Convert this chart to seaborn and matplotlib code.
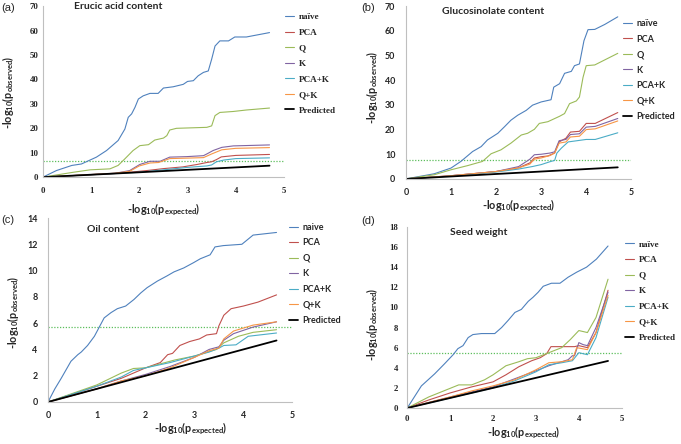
import numpy as np
import pandas as pd
import seaborn as sns
import matplotlib.pyplot as plt

# ---- data (x = -log10 p expected, y = -log10 p observed) ----
series_names = ["naive", "PCA", "Q", "K", "PCA+K", "Q+K"]
series_colors = ["#4F81BD", "#C0504D", "#9BBB59", "#8064A2", "#4BACC6", "#F79646"]

a_naive = [(0, 0), (0.28, 2.7), (0.6, 4.8), (0.8, 5.4), (1.11, 8.2), (1.32, 10.9), (1.56, 15), (1.7, 19.7),
           (1.77, 24.5), (1.84, 25.9), (1.91, 28.6), (1.98, 32), (2.08, 33.3), (2.22, 34.3), (2.39, 34.3),
           (2.5, 36.5), (2.7, 37), (2.91, 38), (3.0, 39.2), (3.12, 39.5), (3.22, 41.5), (3.33, 42.9),
           (3.43, 43.5), (3.5, 48.3), (3.57, 53.7), (3.67, 55.8), (3.85, 55.8), (3.98, 57.4), (4.22, 57.4),
           (4.7, 59.2)]
a_pca = [(0, 0), (1.5, 1.5), (1.8, 2.0), (2.2, 2.8), (2.5, 3.5), (2.9, 4.2), (3.2, 5.2), (3.4, 6.0), (3.5, 6.3),
         (3.6, 7.2), (3.7, 8.3), (4.0, 8.9), (4.7, 9.3)]
a_q = [(0, 0), (0.63, 2.0), (0.98, 3.0), (1.39, 3.4), (1.56, 4.8), (1.7, 7.5), (1.87, 10.9), (2.01, 12.9),
       (2.19, 13.3), (2.32, 15.2), (2.5, 16), (2.57, 17), (2.63, 19.3), (2.77, 20), (3.4, 20.4), (3.5, 21),
       (3.57, 25.2), (3.67, 26.5), (3.95, 26.9), (4.22, 27.5), (4.7, 28.3)]
a_k = [(0, 0), (1.5, 1.6), (1.8, 2.7), (2.01, 5.2), (2.22, 6.5), (2.43, 6.5), (2.63, 8.2), (2.98, 8.4),
       (3.33, 8.8), (3.4, 9.5), (3.53, 10.9), (3.71, 12.2), (3.95, 12.8), (4.7, 13.2)]
a_pcak = [(0, 0), (1.6, 1.6), (2.0, 2.0), (2.5, 3.0), (3.0, 4.0), (3.4, 4.6), (3.5, 5.0), (3.6, 6.3),
          (3.75, 7.0), (4.0, 7.6), (4.7, 7.9)]
a_qk = [(0, 0), (1.5, 1.6), (1.8, 2.4), (2.0, 4.6), (2.22, 5.8), (2.4, 6.0), (2.63, 7.6), (3.0, 7.8),
        (3.33, 8.0), (3.5, 9.5), (3.71, 11.2), (4.0, 11.8), (4.7, 12.1)]

b_naive = [(0, 0), (0.63, 2.1), (1.0, 4.4), (1.22, 7.1), (1.37, 9.4), (1.48, 11.1), (1.67, 13.1), (1.81, 15.8),
           (2.04, 18.5), (2.19, 21.2), (2.33, 23.8), (2.48, 25.8), (2.67, 27.8), (2.81, 29.9), (3.0, 31.2),
           (3.22, 32.1), (3.28, 37.2), (3.41, 38.6), (3.52, 42.8), (3.67, 43.6), (3.74, 45.9), (3.85, 46.6),
           (3.95, 56), (4.04, 60.5), (4.19, 60.6), (4.41, 62.6), (4.7, 65.7)]
b_pca = [(0, 0), (1.0, 1.3), (2.0, 3.0), (2.5, 4.5), (2.75, 6.5), (2.85, 8.5), (3.0, 9.0), (3.15, 9.3),
         (3.3, 10.5), (3.4, 15.0), (3.55, 16.5), (3.65, 19.0), (3.85, 19.3), (4.0, 22.5), (4.2, 22.5),
         (4.7, 26.9)]
b_q = [(0, 0), (0.63, 1.7), (1.0, 3.7), (1.37, 5.4), (1.7, 7.1), (1.89, 10.2), (2.11, 11.8), (2.33, 14.5),
       (2.56, 17.8), (2.7, 18.5), (2.85, 20.1), (2.96, 22.5), (3.15, 23.2), (3.41, 25.4), (3.52, 26.5),
       (3.63, 30.5), (3.78, 31.6), (3.85, 33.2), (3.93, 41.2), (4.0, 45.9), (4.19, 46.2), (4.7, 50.9)]
b_k = [(0, 0), (1.0, 1.3), (2.0, 3.0), (2.5, 5.0), (2.75, 8.0), (2.85, 9.8), (3.0, 10.0), (3.2, 10.5),
       (3.3, 11.0), (3.4, 15.5), (3.55, 16.0), (3.65, 18.0), (3.85, 18.3), (4.0, 21.0), (4.2, 21.3),
       (4.7, 24.5)]
b_pcak = [(0, 0), (1.0, 1.2), (2.0, 2.8), (2.5, 4.0), (2.8, 5.0), (3.0, 5.8), (3.2, 7.0), (3.3, 7.5),
          (3.35, 10.5), (3.45, 12.5), (3.6, 15.0), (3.8, 15.5), (4.0, 16.0), (4.2, 16.0), (4.7, 18.7)]
b_qk = [(0, 0), (1.0, 1.3), (2.0, 3.0), (2.5, 4.5), (2.75, 6.0), (2.85, 8.0), (3.0, 8.5), (3.2, 9.5),
        (3.3, 10.5), (3.4, 14.5), (3.55, 15.0), (3.65, 17.0), (3.85, 17.3), (4.0, 20.0), (4.2, 20.3),
        (4.7, 23.5)]

c_naive = [(0, 0), (0.14, 1.0), (0.27, 1.8), (0.47, 3.1), (0.61, 3.6), (0.68, 3.8), (0.81, 4.3), (0.95, 5.0),
           (1.05, 5.7), (1.15, 6.4), (1.29, 6.8), (1.42, 7.1), (1.59, 7.3), (1.76, 7.8), (1.9, 8.3),
           (2.03, 8.7), (2.24, 9.2), (2.44, 9.6), (2.58, 9.9), (2.78, 10.2), (2.98, 10.6), (3.12, 10.9),
           (3.32, 11.2), (3.42, 11.8), (3.59, 11.9), (3.97, 12.0), (4.2, 12.7), (4.68, 12.9)]
c_pca = [(0, 0), (1.0, 1.2), (1.5, 1.8), (2.0, 2.6), (2.3, 3.0), (2.45, 3.6), (2.55, 3.7), (2.7, 4.3),
         (2.9, 4.6), (3.1, 4.8), (3.25, 5.1), (3.45, 5.2), (3.5, 5.8), (3.6, 6.6), (3.75, 7.1), (4.0, 7.3),
         (4.3, 7.6), (4.68, 8.15)]
c_q = [(0, 0), (1.0, 1.3), (1.5, 2.2), (1.75, 2.55), (2.0, 2.6), (2.3, 2.9), (2.6, 3.2), (3.0, 3.5),
       (3.45, 4.0), (3.6, 4.5), (3.9, 5.0), (4.2, 5.3), (4.68, 5.5)]
c_k = [(0, 0), (1.0, 1.0), (1.5, 1.6), (2.0, 2.1), (2.5, 2.7), (3.0, 3.4), (3.3, 4.0), (3.5, 4.2), (3.6, 4.7),
       (3.8, 5.2), (4.2, 5.7), (4.68, 6.1)]
c_pcak = [(0, 0), (1.0, 1.2), (1.5, 1.9), (1.75, 2.4), (2.0, 2.6), (2.5, 3.0), (3.0, 3.5), (3.3, 3.8),
          (3.5, 4.1), (3.6, 4.3), (3.85, 4.35), (4.1, 5.0), (4.68, 5.25)]
c_qk = [(0, 0), (1.0, 1.0), (1.5, 1.6), (2.0, 2.0), (2.5, 2.6), (3.0, 3.4), (3.3, 3.9), (3.5, 4.1),
        (3.6, 4.8), (3.8, 5.4), (4.2, 5.85), (4.68, 6.1)]

d_naive = [(0, 0), (0.33, 2.2), (0.64, 3.4), (0.87, 4.4), (1.07, 5.3), (1.18, 5.9), (1.3, 6.2), (1.42, 7.0),
           (1.53, 7.3), (1.73, 7.4), (2.04, 7.4), (2.2, 8.0), (2.35, 8.7), (2.51, 9.5), (2.66, 9.8),
           (2.82, 10.6), (2.93, 11.0), (3.05, 11.5), (3.17, 12.1), (3.36, 12.4), (3.56, 12.4), (3.75, 13.0),
           (3.95, 13.5), (4.18, 14.0), (4.41, 14.8), (4.68, 16.1)]
d_pca = [(0, 0), (0.5, 0.8), (1.0, 1.5), (1.5, 2.1), (2.0, 2.6), (2.3, 3.3), (2.6, 4.1), (2.9, 4.7),
         (3.1, 5.0), (3.25, 5.4), (3.35, 6.1), (3.9, 6.1), (4.0, 6.2), (4.2, 6.0), (4.4, 7.5), (4.68, 11.7)]
d_q = [(0, 0), (0.5, 1.1), (0.85, 1.7), (1.2, 2.3), (1.5, 2.3), (1.8, 2.8), (2.0, 3.3), (2.3, 4.2),
       (2.6, 4.6), (2.8, 4.9), (3.0, 5.0), (3.3, 5.5), (3.6, 6.0), (3.8, 6.8), (4.0, 7.7), (4.2, 7.5),
       (4.4, 9.0), (4.68, 12.8)]
d_k = [(0, 0), (1.0, 1.1), (1.5, 1.6), (2.0, 2.1), (2.5, 2.9), (3.0, 3.7), (3.3, 4.2), (3.6, 4.6),
       (3.75, 4.8), (3.85, 5.2), (3.9, 5.2), (4.0, 6.5), (4.1, 6.3), (4.2, 6.2), (4.4, 8.0), (4.68, 11.5)]
d_pcak = [(0, 0), (1.0, 1.0), (1.5, 1.5), (2.0, 2.0), (2.5, 2.7), (3.0, 3.6), (3.3, 4.3), (3.6, 4.5),
          (3.85, 4.7), (4.0, 5.5), (4.2, 5.3), (4.4, 7.0), (4.68, 11.0)]
d_qk = [(0, 0), (1.0, 1.1), (1.5, 1.7), (2.0, 2.2), (2.5, 2.8), (3.0, 3.8), (3.3, 4.5), (3.6, 4.6),
        (3.85, 4.8), (3.95, 6.0), (4.2, 5.8), (4.4, 7.5), (4.68, 11.2)]

predicted_end = [4.7, 4.7, 4.68, 4.68]
thresholds = [6.5, 7.5, 5.7, 5.5]
panel_titles = ["Erucic acid content", "Glucosinolate content", "Oil content", "Seed weight"]
panel_letters = ["(a)", "(b)", "(c)", "(d)"]
y_max = [70, 70, 14, 18]
y_step = [10, 10, 2, 2]

sns.set_style("white")
plt.rcParams["mathtext.default"] = "regular"

SERIF = "Liberation Serif"
SANS = "Lato"

fig = plt.figure(figsize=(6.81, 4.44), dpi=100)

axes_pos = [
    [0.063, 0.601, 0.354, 0.385],
    [0.596, 0.597, 0.331, 0.389],
    [0.0705, 0.0946, 0.3585, 0.4144],
    [0.598, 0.081, 0.315, 0.408],
]
legend_anchor = [(0.4185, 0.971), (0.915, 0.957), (0.4245, 0.498), (0.918, 0.459)]
title_pos = [(0.13, 1.0), (0.16, 0.97), (0.16, 0.94), (0.2, 0.967)]
letter_pos = [(0.0025, 0.982), (0.531, 0.982), (0.0025, 0.505), (0.531, 0.502)]
tick_font = [SERIF, SANS, SANS, SERIF]
naive_label = ["naïve", "naïve", "naive", "naïve"]
ytick_pad = [0.8, 5.0, 5.0, 4.0]
xtick_pad = [4.7, 4.3, 4.3, 2.5]
xlabel_xy = [(0.5, -0.193), (0.5, -0.158), (0.586, -0.148), (0.544, -0.138)]
ylabel_xy = [(-0.145, 0.497), (-0.151, 0.53), (-0.143, 0.49), (-0.163, 0.46)]

all_series = [
    [a_naive, a_pca, a_q, a_k, a_pcak, a_qk],
    [b_naive, b_pca, b_q, b_k, b_pcak, b_qk],
    [c_naive, c_pca, c_q, c_k, c_pcak, c_qk],
    [d_naive, d_pca, d_q, d_k, d_pcak, d_qk],
]

for i in range(4):
    ax = fig.add_axes(axes_pos[i])
    fam = tick_font[i]

    # significance threshold
    ax.axhline(thresholds[i], color="#5cbf5c", lw=0.9, ls=(0, (1, 1.3)), zorder=1)

    for name, color, pts in zip(series_names, series_colors, all_series[i]):
        df = pd.DataFrame(pts, columns=["x", "y"])
        label = naive_label[i] if name == "naive" else name
        sns.lineplot(data=df, x="x", y="y", ax=ax, color=color, lw=0.8,
                     sort=False, estimator=None, label=label)

    pred = pd.DataFrame({"x": [0, predicted_end[i]], "y": [0, predicted_end[i]]})
    sns.lineplot(data=pred, x="x", y="y", ax=ax, color="black", lw=1.3,
                 sort=False, estimator=None, label="Predicted")

    ax.set_xlim(0, 5)
    ax.set_ylim(0, y_max[i])
    ax.set_xticks(range(0, 6))
    ax.set_yticks(np.arange(0, y_max[i] + 1, y_step[i]))

    for side in ["top", "right"]:
        ax.spines[side].set_visible(False)
    for side in ["left", "bottom"]:
        ax.spines[side].set_color("#bfbfbf")
        ax.spines[side].set_linewidth(0.8)
    ax.tick_params(axis="both", direction="out", length=2.5, width=0.8, color="#bfbfbf")
    ax.tick_params(axis="y", pad=ytick_pad[i])
    ax.tick_params(axis="x", pad=xtick_pad[i])
    for lab in ax.get_xticklabels() + ax.get_yticklabels():
        lab.set_fontfamily(fam)
        lab.set_fontweight("bold")
        lab.set_fontsize(6.3 if fam == SERIF else 6.4)

    ax.set_xlabel("-log$_{10}$(p$_{expected}$)", fontfamily=SANS, fontweight="bold", fontsize=7.8)
    ax.set_ylabel("-log$_{10}$(p$_{observed}$)", fontfamily=SANS, fontweight="bold", fontsize=7.8)
    ax.xaxis.set_label_coords(*xlabel_xy[i])
    ax.yaxis.set_label_coords(*ylabel_xy[i])
    ax.xaxis.label.set_va("center")
    ax.yaxis.label.set_va("center")

    ax.text(title_pos[i][0], title_pos[i][1], panel_titles[i], transform=ax.transAxes,
            fontfamily=SANS, fontweight="bold", fontsize=7.5, va="center", ha="left")
    fig.text(letter_pos[i][0], letter_pos[i][1], panel_letters[i], fontfamily="Liberation Sans",
             fontsize=8, va="center", ha="left")

    ax.legend(loc="upper left", bbox_to_anchor=legend_anchor[i], bbox_transform=fig.transFigure,
              frameon=False, borderpad=0, borderaxespad=0, handlelength=1.0, handletextpad=0.5,
              labelspacing=0.78 if fam == SERIF else 0.72,
              prop={"family": fam, "weight": "bold", "size": 6.6 if fam == SERIF else 6.5})

fig.savefig("out.png", dpi=100)
